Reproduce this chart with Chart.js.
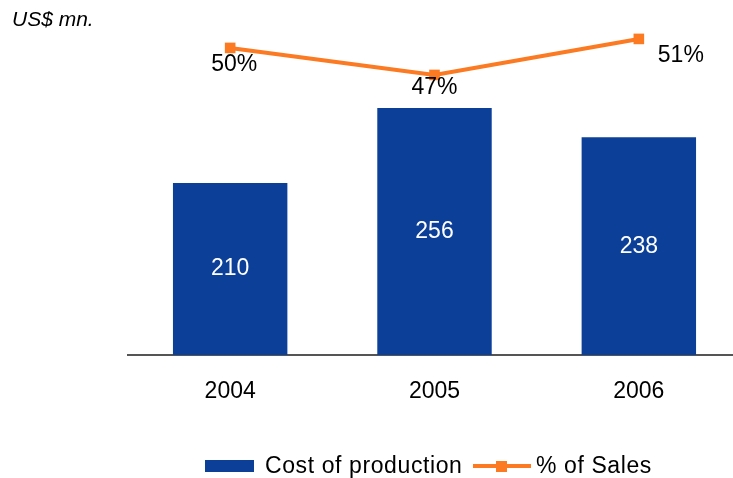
<!DOCTYPE html>
<html>
<head>
<meta charset="utf-8">
<script src="https://cdn.jsdelivr.net/npm/chart.js@4"></script>
<style>
    html, body { margin: 0; padding: 0; background: #fff; overflow: hidden; }
    #wrap { width: 733px; height: 478px; }
    #costChart { display: block; }
</style>
</head>
<body>
<div id="wrap"><canvas id="costChart" width="733" height="478"></canvas></div>
<script>
// Chart data
const years = ['2004', '2005', '2006'];
const costOfProduction = [210, 256, 238];
const pctOfSales = [50, 47, 51];
const pctLabels = ['50%', '47%', '51%'];
const unitLabel = 'US$ mn.';
const seriesNames = ['Cost of production', '% of Sales'];

const BLUE = '#0b3f98';
const ORANGE = '#fb7a22';
const FONT = '"Liberation Sans", Arial, sans-serif';

// label offsets for the % points (style only)
const pctOffsets = [[4, 17], [0, 13], [42, 17]];

// the plot area in the original runs past the right edge of the picture
const PLOT_WIDTH = 613;

const widenPlot = {
    id: 'widenPlot',
    afterLayout(chart) {
        const x = chart.scales.x;
        x.right = x.left + PLOT_WIDTH;
        x.width = PLOT_WIDTH;
        x.configure();
    }
};

// Value labels + unit text + legend
const annotate = {
    id: 'annotate',
    afterDatasetsDraw(chart) {
        const ctx = chart.ctx;
        const bottom = chart.chartArea.bottom;
        ctx.save();
        ctx.textAlign = 'center';
        ctx.textBaseline = 'middle';
        ctx.font = '23px ' + FONT;

        // bar labels, middle of the visible bar (dataset 1 = bars)
        ctx.fillStyle = '#ffffff';
        chart.getDatasetMeta(1).data.forEach((bar, i) => {
            ctx.fillText(String(costOfProduction[i]), bar.x, (bar.y + bottom) / 2);
        });

        // line labels (dataset 0 = line)
        ctx.fillStyle = '#000000';
        chart.getDatasetMeta(0).data.forEach((pt, i) => {
            const [dx, dy] = pctOffsets[i];
            ctx.fillText(pctLabels[i], pt.x + dx, pt.y + dy);
        });
        ctx.restore();
    },
    afterDraw(chart) {
        const ctx = chart.ctx;
        ctx.save();

        // unit text
        ctx.fillStyle = '#000';
        ctx.textBaseline = 'alphabetic';
        ctx.textAlign = 'left';
        ctx.font = 'italic 21px ' + FONT;
        ctx.fillText(unitLabel, 12, 26);

        // legend
        const ly = 466;
        ctx.font = '23px ' + FONT;
        ctx.letterSpacing = '0.6px';
        ctx.textBaseline = 'middle';
        ctx.fillStyle = BLUE;
        ctx.fillRect(205, ly - 6, 49, 12);
        ctx.fillStyle = '#000';
        ctx.fillText(seriesNames[0], 265, ly + 1);

        ctx.strokeStyle = ORANGE;
        ctx.lineWidth = 4;
        ctx.beginPath();
        ctx.moveTo(473, ly);
        ctx.lineTo(531, ly);
        ctx.stroke();
        ctx.fillStyle = ORANGE;
        ctx.fillRect(496, ly - 5, 11, 11);
        ctx.fillStyle = '#000';
        ctx.fillText(seriesNames[1], 536, ly + 1);

        ctx.restore();
    }
};

const ctx = document.getElementById('costChart').getContext('2d');
new Chart(ctx, {
    data: {
        labels: years,
        datasets: [
            {
                type: 'line',
                label: seriesNames[1],
                data: pctOfSales,
                yAxisID: 'y2',
                borderColor: ORANGE,
                backgroundColor: ORANGE,
                borderWidth: 4,
                pointStyle: 'rect',
                pointRadius: 7.5,
                pointBorderWidth: 0,
                pointBackgroundColor: ORANGE,
                tension: 0,
                clip: false,
                order: 1
            },
            {
                type: 'bar',
                label: seriesNames[0],
                data: costOfProduction,
                yAxisID: 'y',
                backgroundColor: BLUE,
                borderWidth: 0,
                barPercentage: 0.56,
                categoryPercentage: 1.0,
                order: 2
            }
        ]
    },
    options: {
        responsive: false,
        maintainAspectRatio: false,
        animation: false,
        layout: {
            padding: { left: 128, right: 0, top: 20, bottom: 0 }
        },
        plugins: {
            legend: { display: false },
            tooltip: { enabled: false },
            title: { display: false }
        },
        scales: {
            x: {
                grid: { display: false, drawTicks: false },
                border: { display: true, color: '#555555', width: 2 },
                ticks: {
                    color: '#000',
                    font: { family: FONT, size: 23 },
                    padding: 23
                },
                afterFit(scale) {
                    scale.height = 123;
                }
            },
            y: {
                display: false,
                min: 104.5,
                max: 310
            },
            y2: {
                display: false,
                min: 15.9,
                max: 53.1
            }
        }
    },
    plugins: [widenPlot, annotate]
});
</script>
</body>
</html>
